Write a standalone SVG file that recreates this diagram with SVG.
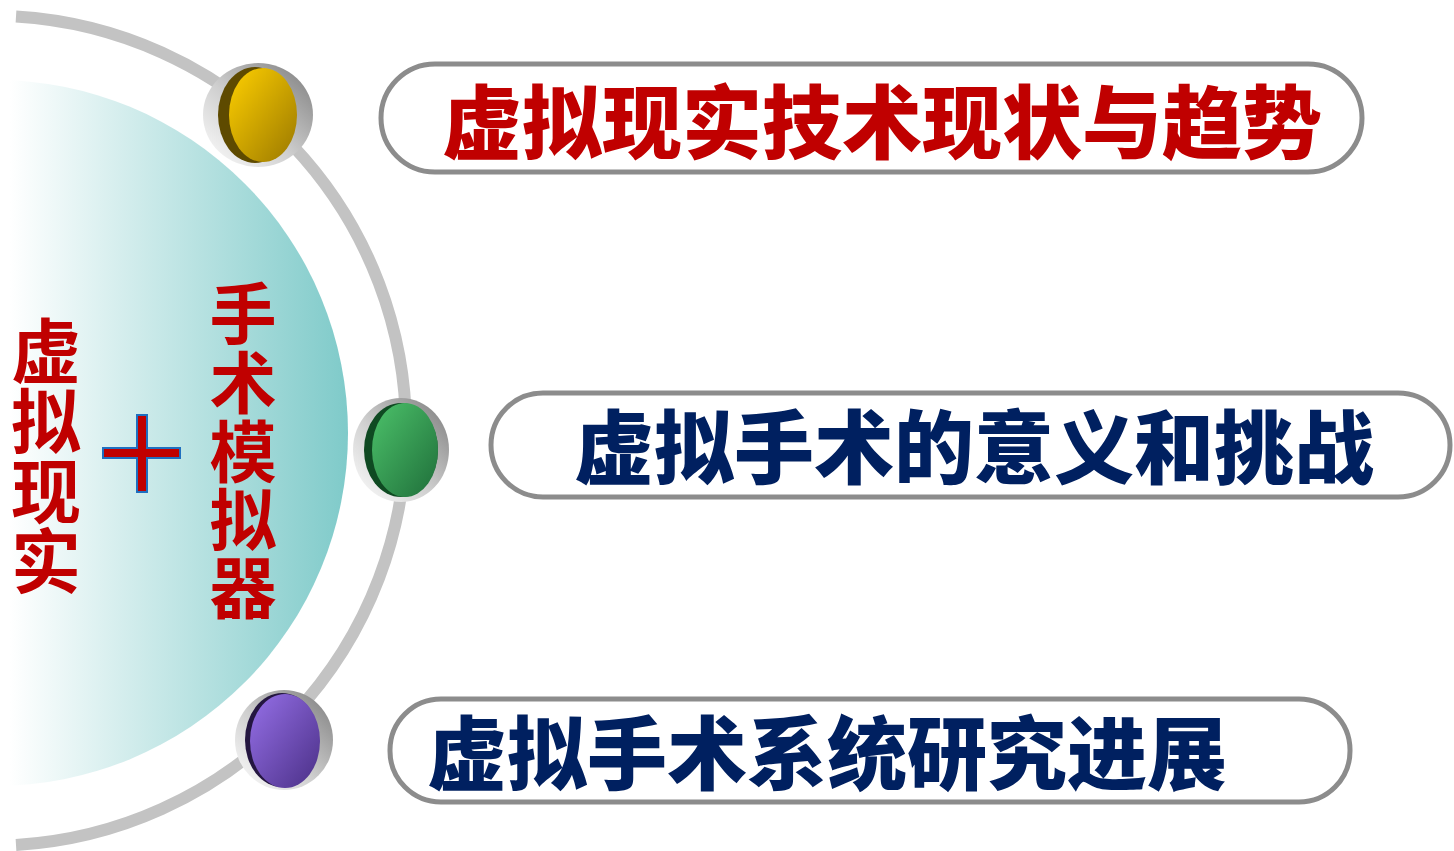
<svg xmlns="http://www.w3.org/2000/svg" width="1454" height="851" viewBox="0 0 1454 851">
<defs>
<style>
.pill{fill:#fff;stroke:#8c8c8c;stroke-width:5}
.pt{font-family:"Noto Sans CJK SC","Noto Sans CJK JP",sans-serif;font-weight:900;font-size:80px;dominant-baseline:central}
.vt{font-family:"Noto Sans CJK SC","Noto Sans CJK JP",sans-serif;font-weight:bold;fill:#c00000;text-anchor:middle;dominant-baseline:central}
</style>
<linearGradient id="teal" x1="10" y1="0" x2="350" y2="0" gradientUnits="userSpaceOnUse">
<stop offset="0" stop-color="#ffffff"/><stop offset="1" stop-color="#7ecac9"/>
</linearGradient>
<linearGradient id="ring" x1="0" y1="1" x2="1" y2="0">
<stop offset="0" stop-color="#ffffff"/><stop offset="0.45" stop-color="#cfcfcf"/><stop offset="1" stop-color="#7a7a7a"/>
</linearGradient>
<linearGradient id="yel" x1="0" y1="0" x2="1" y2="1"><stop offset="0" stop-color="#ffd000"/><stop offset="1" stop-color="#9a7800"/></linearGradient>
<linearGradient id="grn" x1="0" y1="0" x2="1" y2="1"><stop offset="0" stop-color="#4cc26a"/><stop offset="1" stop-color="#1f6e3a"/></linearGradient>
<linearGradient id="pur" x1="0" y1="0" x2="1" y2="1"><stop offset="0" stop-color="#9670e8"/><stop offset="1" stop-color="#4a2f86"/></linearGradient>
<clipPath id="cl"><rect x="10" y="0" width="1444" height="851"/></clipPath>
</defs>
<g id="background">
<circle cx="-5" cy="433" r="353" fill="url(#teal)" clip-path="url(#cl)"/>
</g>
<g id="connectors">
<path d="M16,16.5 A415,415 0 0 1 16,845" fill="none" stroke="#c3c3c3" stroke-width="12"/>
</g>
<g id="left-text">
<text class="vt" font-size="70"><tspan x="46" y="347">虚</tspan><tspan x="46" y="417">拟</tspan><tspan x="46" y="487">现</tspan><tspan x="46" y="557">实</tspan></text>
<path d="M137,415 H147 V448 H180 V458 H147 V492 H137 V458 H103 V448 H137 Z" fill="#c00000" stroke="#1f6fc0" stroke-width="2"/>
<text class="vt" font-size="67"><tspan x="243" y="309">手</tspan><tspan x="243" y="378">术</tspan><tspan x="243" y="447">模</tspan><tspan x="243" y="515">拟</tspan><tspan x="243" y="583">器</tspan></text>
</g>
<g id="ball1">
<ellipse cx="258" cy="115" rx="55" ry="52" fill="url(#ring)"/>
<ellipse cx="255" cy="115" rx="37" ry="48" fill="#5e4a00"/>
<ellipse cx="263" cy="115" rx="34" ry="47" fill="url(#yel)"/>
</g>
<g id="ball2">
<ellipse cx="401" cy="450" rx="48" ry="52" fill="url(#ring)"/>
<ellipse cx="401" cy="450" rx="37" ry="47" fill="#0f4a22"/>
<ellipse cx="405" cy="450" rx="33" ry="47" fill="url(#grn)"/>
</g>
<g id="ball3">
<ellipse cx="284" cy="740" rx="49" ry="50" fill="url(#ring)"/>
<ellipse cx="282" cy="740" rx="37" ry="47" fill="#241640"/>
<ellipse cx="285" cy="741" rx="35" ry="47" fill="url(#pur)"/>
</g>
<g id="node1">
<rect class="pill" x="381" y="64" width="981" height="108" rx="54"/>
<text class="pt" x="442" y="117" fill="#c00000" textLength="880" lengthAdjust="spacingAndGlyphs">虚拟现实技术现状与趋势</text>
</g>
<g id="node2">
<rect class="pill" x="491" y="393" width="959" height="104" rx="52"/>
<text class="pt" x="574" y="442" fill="#002060" textLength="800" lengthAdjust="spacingAndGlyphs">虚拟手术的意义和挑战</text>
</g>
<g id="node3">
<rect class="pill" x="390" y="699" width="960" height="103" rx="51"/>
<text class="pt" x="427" y="748" fill="#002060" textLength="800" lengthAdjust="spacingAndGlyphs">虚拟手术系统研究进展</text>
</g>
</svg>
